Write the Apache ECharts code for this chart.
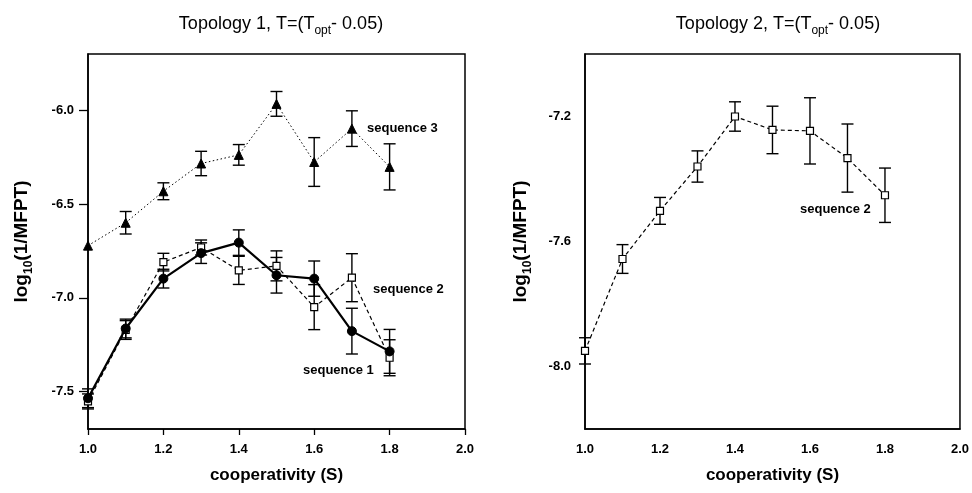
<!DOCTYPE html>
<html>
<head>
<meta charset="utf-8">
<script src="https://cdn.jsdelivr.net/npm/echarts@6/dist/echarts.min.js"></script>
<style>html,body{margin:0;padding:0;background:#fff}#c{width:972px;height:493px}</style>
</head>
<body>
<div id="c"></div>
<script>
var S = [1.0, 1.1, 1.2, 1.3, 1.4, 1.5, 1.6, 1.7, 1.8];
var xTicks = [1.0, 1.2, 1.4, 1.6, 1.8, 2.0];
// Topology 1
var seq1 = [-7.536, -7.164, -6.898, -6.762, -6.706, -6.880, -6.898, -7.178, -7.286];
var seq1Err = [0.05, 0.05, 0.05, 0.055, 0.068, 0.095, 0.094, 0.122, 0.117];
var seq2 = [-7.553, -7.172, -6.810, -6.732, -6.854, -6.830, -7.050, -6.893, -7.320];
var seq2Err = [0.04, 0.05, 0.047, 0.04, 0.075, 0.08, 0.12, 0.128, 0.096];
var seq3 = [-6.722, -6.600, -6.432, -6.284, -6.238, -5.966, -6.276, -6.098, -6.302];
var seq3Err = [0.0, 0.06, 0.045, 0.065, 0.055, 0.066, 0.13, 0.095, 0.123];
var yTicksLeft = [-7.5, -7.0, -6.5, -6.0];
// Topology 2
var t2seq2 = [-7.950, -7.656, -7.502, -7.360, -7.200, -7.243, -7.246, -7.333, -7.452];
var t2seq2Err = [0.042, 0.046, 0.043, 0.05, 0.047, 0.076, 0.106, 0.109, 0.087];
var yTicksRight = [-8.0, -7.6, -7.2];

var FONT = 'Liberation Sans, Arial, Helvetica, sans-serif';
var NARROW = 'Liberation Sans Narrow, Liberation Sans, Arial, sans-serif';

function pts(ys) { return S.map(function (x, i) { return [x, ys[i]]; }); }
function errData(ys, es) { return S.map(function (x, i) { return [x, ys[i] - es[i], ys[i] + es[i]]; }); }

function errSeries(ys, es, gi) {
  return {
    type: 'custom', xAxisIndex: gi, yAxisIndex: gi, z: 1, silent: true,
    data: errData(ys, es),
    encode: { x: 0, y: [1, 2] },
    renderItem: function (params, api) {
      if (api.value(2) - api.value(1) < 1e-9) return null;
      var lo = api.coord([api.value(0), api.value(1)]);
      var hi = api.coord([api.value(0), api.value(2)]);
      var w = 6;
      var st = { stroke: '#000', lineWidth: 1.4 };
      return {
        type: 'group', children: [
          { type: 'line', shape: { x1: lo[0], y1: lo[1], x2: hi[0], y2: hi[1] }, style: st },
          { type: 'line', shape: { x1: lo[0] - w, y1: lo[1], x2: lo[0] + w, y2: lo[1] }, style: st },
          { type: 'line', shape: { x1: hi[0] - w, y1: hi[1], x2: hi[0] + w, y2: hi[1] }, style: st }
        ]
      };
    }
  };
}

function titleText(n) {
  return {
    text: '{a|Topology ' + n + ', T=(T}{s|opt}{a|- 0.05)}',
    textStyle: {
      fontWeight: 'normal',
      rich: {
        a: { fontFamily: FONT, fontSize: 18, fontWeight: 'normal', color: '#000', lineHeight: 26, verticalAlign: 'middle' },
        s: { fontFamily: FONT, fontSize: 12, fontWeight: 'normal', color: '#000', lineHeight: 10, verticalAlign: 'bottom' }
      }
    }
  };
}

var yName = '{a|log}{s|10}{a|(1/MFPT)}';
var yNameStyle = {
  rich: {
    a: { fontFamily: FONT, fontSize: 19, fontWeight: 'bold', color: '#000', lineHeight: 26, verticalAlign: 'middle' },
    s: { fontFamily: FONT, fontSize: 12, fontWeight: 'bold', color: '#000', lineHeight: 10, verticalAlign: 'bottom' }
  }
};

function xAxis(gi, ticks) {
  return {
    type: 'value', gridIndex: gi, min: 1.0, max: 2.0, interval: 0.2,
    name: 'cooperativity (S)', nameLocation: 'middle', nameGap: 38,
    nameTextStyle: { fontFamily: FONT, fontSize: 17, fontWeight: 'bold', color: '#000' },
    axisLine: { lineStyle: { color: '#000', width: 1.5 } },
    axisTick: { show: ticks, length: 6, lineStyle: { color: '#000', width: 1.3 } },
    splitLine: { show: false },
    axisLabel: {
      margin: 14, fontFamily: NARROW, fontSize: 13, fontWeight: 'bold', color: '#000',
      formatter: function (v) { return v.toFixed(1); }
    }
  };
}

function yAxis(gi, min, max, ticks, showTick, gap) {
  return {
    type: 'value', gridIndex: gi, min: min, max: max,
    name: yName, nameLocation: 'middle', nameGap: gap, nameTextStyle: yNameStyle,
    axisLine: { lineStyle: { color: '#000', width: 1.5 } },
    axisTick: { show: showTick, length: 9, customValues: ticks, lineStyle: { color: '#000', width: 1.3 } },
    splitLine: { show: false },
    axisLabel: {
      margin: 14, fontFamily: FONT, fontSize: 13, fontWeight: 'bold', color: '#000',
      customValues: ticks,
      formatter: function (v) { return v.toFixed(1); }
    }
  };
}

var lbl = { fontFamily: FONT, fontSize: 13, fontWeight: 'bold', fill: '#000' };

var chart = echarts.init(document.getElementById('c'), null, { renderer: 'canvas' });
chart.setOption({
  backgroundColor: '#fff',
  animation: false,
  title: [
    Object.assign({ left: 276, top: 6, textAlign: 'center' }, titleText(1)),
    Object.assign({ left: 773, top: 6, textAlign: 'center' }, titleText(2))
  ],
  grid: [
    { left: 88, top: 54, width: 377, height: 375, show: true, borderColor: '#000', borderWidth: 1.5, backgroundColor: 'transparent' },
    { left: 585, top: 54, width: 377, height: 375, show: true, borderColor: '#000', borderWidth: 1.5, backgroundColor: 'transparent' }
  ],
  xAxis: [xAxis(0, true), xAxis(1, false)],
  yAxis: [
    yAxis(0, -7.7, -5.7, yTicksLeft, true, 53),
    yAxis(1, -8.2, -7.0, yTicksRight, false, 51)
  ],
  series: [
    errSeries(seq3, seq3Err, 0),
    errSeries(seq2, seq2Err, 0),
    errSeries(seq1, seq1Err, 0),
    errSeries(t2seq2, t2seq2Err, 1),
    {
      type: 'line', xAxisIndex: 0, yAxisIndex: 0, data: pts(seq3), z: 3,
      symbol: 'triangle', symbolSize: 9, showAllSymbol: true,
      lineStyle: { color: '#000', width: 1, type: [1.5, 2.5] },
      itemStyle: { color: '#000', borderColor: '#000' }
    },
    {
      type: 'line', xAxisIndex: 0, yAxisIndex: 0, data: pts(seq2), z: 3,
      symbol: 'rect', symbolSize: 7, showAllSymbol: true,
      lineStyle: { color: '#000', width: 1.2, type: [4, 3] },
      itemStyle: { color: '#fff', borderColor: '#000', borderWidth: 1.2 }
    },
    {
      type: 'line', xAxisIndex: 0, yAxisIndex: 0, data: pts(seq1), z: 4,
      symbol: 'circle', symbolSize: 9, showAllSymbol: true,
      lineStyle: { color: '#000', width: 2.2 },
      itemStyle: { color: '#000', borderColor: '#000' }
    },
    {
      type: 'line', xAxisIndex: 1, yAxisIndex: 1, data: pts(t2seq2), z: 3,
      symbol: 'rect', symbolSize: 7, showAllSymbol: true,
      lineStyle: { color: '#000', width: 1.2, type: [4, 3] },
      itemStyle: { color: '#fff', borderColor: '#000', borderWidth: 1.2 }
    }
  ],
  graphic: [
    { type: 'text', left: 367, top: 122, style: Object.assign({ text: 'sequence 3' }, lbl) },
    { type: 'text', left: 373, top: 283, style: Object.assign({ text: 'sequence 2' }, lbl) },
    { type: 'text', left: 303, top: 364, style: Object.assign({ text: 'sequence 1' }, lbl) },
    { type: 'text', left: 800, top: 203, style: Object.assign({ text: 'sequence 2' }, lbl) }
  ]
});
</script>
</body>
</html>
